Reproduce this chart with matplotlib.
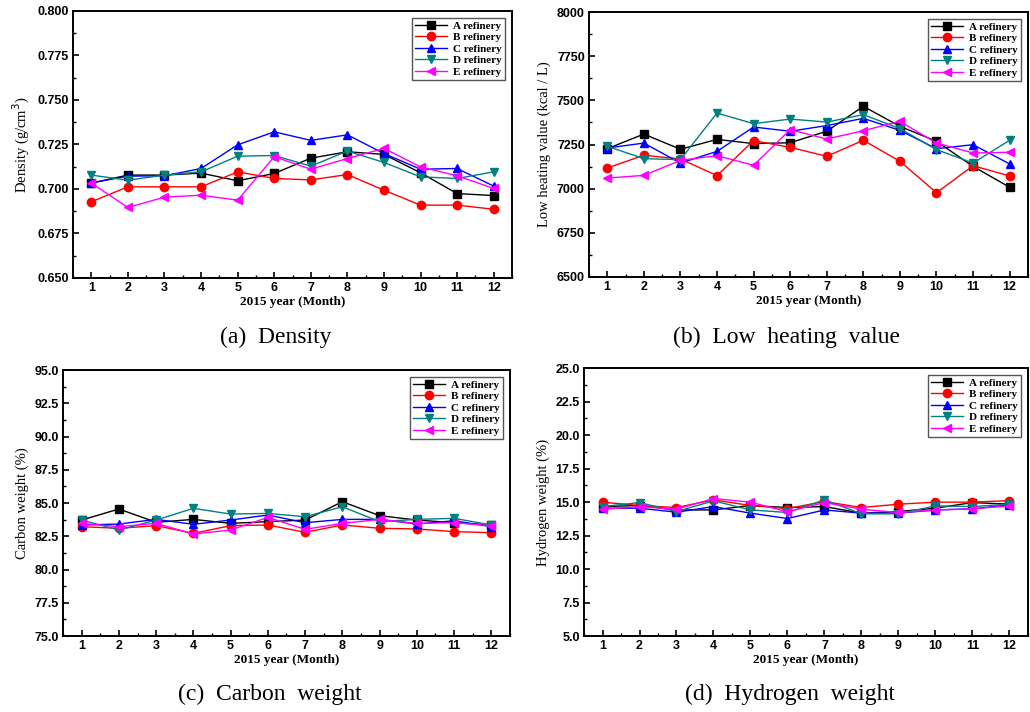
import matplotlib
matplotlib.use("Agg")
import matplotlib.pyplot as plt
from matplotlib.ticker import MultipleLocator

months = list(range(1, 13))
refineries = ["A refinery", "B refinery", "C refinery", "D refinery", "E refinery"]

density_A = [0.7033, 0.7078, 0.7078, 0.7089, 0.7046, 0.7087, 0.7173, 0.7209, 0.7194, 0.7091, 0.6974, 0.6963]
density_B = [0.6928, 0.7012, 0.7012, 0.7012, 0.7096, 0.7059, 0.7051, 0.7081, 0.6993, 0.6909, 0.6909, 0.6886]
density_C = [0.7034, 0.7072, 0.7074, 0.7115, 0.7248, 0.7321, 0.7273, 0.7304, 0.7199, 0.7111, 0.7115, 0.7016]
density_D = [0.7078, 0.7049, 0.7078, 0.7096, 0.7184, 0.7188, 0.7128, 0.7213, 0.7149, 0.7068, 0.7059, 0.7096]
density_E = [0.7033, 0.6896, 0.6954, 0.6965, 0.6937, 0.7181, 0.7111, 0.7171, 0.7228, 0.7124, 0.7074, 0.7003]

lhv_A = [7226, 7309, 7223, 7279, 7255, 7260, 7325, 7466, 7353, 7268, 7126, 7008]
lhv_B = [7117, 7189, 7168, 7074, 7272, 7234, 7183, 7274, 7155, 6977, 7130, 7072]
lhv_C = [7230, 7258, 7145, 7211, 7349, 7325, 7357, 7398, 7330, 7226, 7249, 7140]
lhv_D = [7240, 7170, 7164, 7428, 7368, 7394, 7377, 7419, 7340, 7221, 7145, 7274]
lhv_E = [7060, 7075, 7160, 7187, 7132, 7334, 7281, 7328, 7381, 7258, 7202, 7206]

carbon_A = [83.72, 84.55, 83.55, 83.77, 83.47, 83.60, 83.72, 85.10, 84.05, 83.72, 83.52, 83.35]
carbon_B = [83.22, 83.10, 83.30, 82.72, 83.30, 83.35, 82.80, 83.35, 83.10, 83.05, 82.85, 82.77]
carbon_C = [83.35, 83.42, 83.77, 83.40, 83.72, 84.10, 83.52, 83.77, 83.77, 83.42, 83.67, 83.22]
carbon_D = [83.72, 82.97, 83.72, 84.60, 84.17, 84.22, 83.97, 84.72, 83.60, 83.77, 83.85, 83.35]
carbon_E = [83.47, 83.22, 83.47, 82.67, 82.97, 83.92, 83.02, 83.47, 83.77, 83.47, 83.52, 83.30]

hydrogen_A = [14.66, 14.74, 14.41, 14.41, 14.74, 14.59, 14.66, 14.17, 14.29, 14.54, 14.96, 14.84]
hydrogen_B = [14.99, 14.74, 14.59, 15.16, 14.74, 14.51, 15.04, 14.59, 14.84, 14.99, 14.99, 15.11]
hydrogen_C = [14.54, 14.54, 14.24, 14.66, 14.17, 13.77, 14.41, 14.17, 14.17, 14.41, 14.49, 14.79]
hydrogen_D = [14.66, 14.96, 14.29, 15.09, 14.41, 14.22, 15.16, 14.12, 14.12, 14.71, 14.66, 14.84]
hydrogen_E = [14.46, 14.66, 14.46, 15.26, 14.99, 14.27, 14.96, 14.46, 14.22, 14.41, 14.49, 14.71]

colors = ["#000000", "#ff0000", "#0000ff", "#008080", "#ff00ff"]
markers = ["s", "o", "^", "v", "<"]

panels = [
    dict(rect=[0.0709, 0.6096, 0.4262, 0.375], series=[density_A, density_B, density_C, density_D, density_E],
         ylim=(0.650, 0.800), major=0.025, fmt="{:.3f}", ylabel="Density (g/cm$^3$)",
         caption="(a)  Density", cap_xy=(0.268, 0.511)),
    dict(rect=[0.5718, 0.6110, 0.4262, 0.3721], series=[lhv_A, lhv_B, lhv_C, lhv_D, lhv_E],
         ylim=(6500, 8000), major=250, fmt="{:.0f}", ylabel="Low heating value (kcal / L)",
         caption="(b)  Low  heating  value", cap_xy=(0.764, 0.511)),
    dict(rect=[0.0612, 0.1067, 0.4339, 0.3736], series=[carbon_A, carbon_B, carbon_C, carbon_D, carbon_E],
         ylim=(75.0, 95.0), major=2.5, fmt="{:.1f}", ylabel="Carbon weight (%)",
         caption="(c)  Carbon  weight", cap_xy=(0.262, 0.010)),
    dict(rect=[0.567, 0.1067, 0.431, 0.3764], series=[hydrogen_A, hydrogen_B, hydrogen_C, hydrogen_D, hydrogen_E],
         ylim=(5.0, 25.0), major=2.5, fmt="{:.1f}", ylabel="Hydrogen weight (%)",
         caption="(d)  Hydrogen  weight", cap_xy=(0.767, 0.010)),
]

fig = plt.figure(figsize=(10.30, 7.12), dpi=100)
tick_font = dict(family="Liberation Sans", weight="bold", size=9)

for p in panels:
    ax = fig.add_axes(p["rect"])
    for vals, name, c, m in zip(p["series"], refineries, colors, markers):
        ax.plot(months, vals, color=c, marker=m, markersize=6, linewidth=1.0, label=name)
    ax.set_xlim(0.5, 12.5)
    ax.set_ylim(*p["ylim"])
    ax.set_xticks(months)
    ax.xaxis.set_minor_locator(MultipleLocator(0.5))
    ax.yaxis.set_major_locator(MultipleLocator(p["major"]))
    ax.yaxis.set_minor_locator(MultipleLocator(p["major"] / 2))
    ax.set_yticks(ax.get_yticks())
    ax.set_ylim(*p["ylim"])
    ax.set_yticklabels([p["fmt"].format(v) for v in ax.get_yticks()], fontdict=tick_font)
    ax.set_xticklabels([str(m) for m in months], fontdict=tick_font)
    ax.tick_params(which="major", direction="in", length=4, width=1.2, top=False, right=False, pad=3)
    ax.tick_params(which="minor", direction="in", length=2, width=1.0, top=False, right=False)
    for s in ax.spines.values():
        s.set_linewidth(1.4)
    ax.set_xlabel("2015 year (Month)", family="Liberation Serif", weight="bold", size=9.5, labelpad=1)
    ax.set_ylabel(p["ylabel"], family="Liberation Serif", size=10.5, labelpad=4)
    leg = ax.legend(loc="upper right", prop=dict(family="Liberation Serif", weight="bold", size=8),
                    frameon=True, fancybox=False, edgecolor="#555555", framealpha=1,
                    handlelength=2.8, handletextpad=0.6, labelspacing=0.15, borderpad=0.3,
                    borderaxespad=0.6, markerscale=1.0)
    leg.get_frame().set_linewidth(1.0)
    fig.text(p["cap_xy"][0], p["cap_xy"][1], p["caption"], family="Liberation Serif",
             size=17, ha="center", va="bottom")

fig.savefig("out.png", dpi=100)
